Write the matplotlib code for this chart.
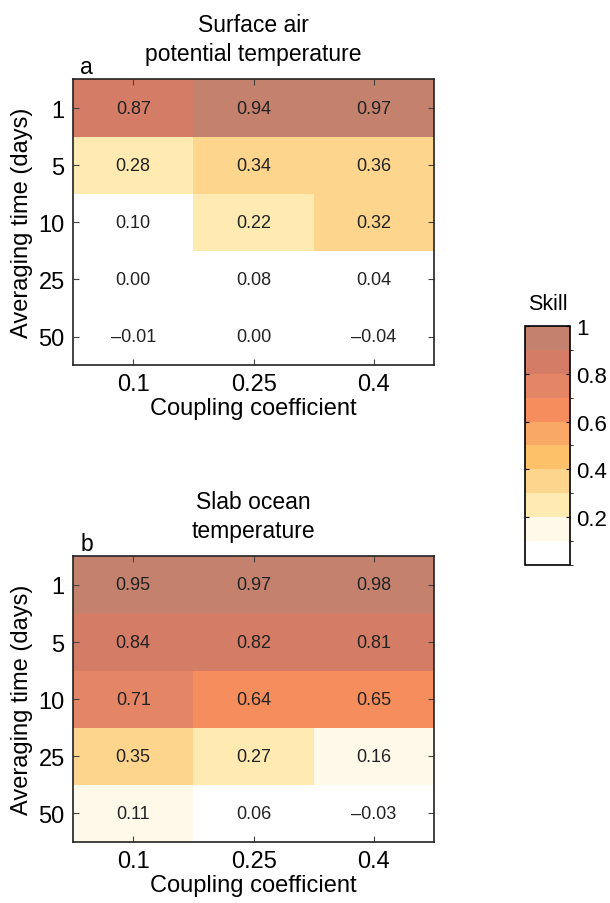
import numpy as np
import matplotlib
matplotlib.use('Agg')
import matplotlib.pyplot as plt
from matplotlib.colors import ListedColormap, BoundaryNorm

plt.rcParams['font.family'] = ['Liberation Sans', 'DejaVu Sans']

# Datos
coupling = ['0.1', '0.25', '0.4']
avg_time = ['1', '5', '10', '25', '50']
skill_air = [[0.87, 0.94, 0.97],
             [0.28, 0.34, 0.36],
             [0.098, 0.22, 0.32],
             [0.00, 0.08, 0.04],
             [-0.01, 0.00, -0.04]]
skill_ocean = [[0.95, 0.97, 0.98],
               [0.84, 0.82, 0.81],
               [0.71, 0.64, 0.65],
               [0.35, 0.27, 0.16],
               [0.11, 0.06, -0.03]]
titles = ['Surface air\npotential temperature', 'Slab ocean\ntemperature']
letters = ['a', 'b']
levels = [0, 0.1, 0.2, 0.3, 0.4, 0.5, 0.6, 0.7, 0.8, 0.9, 1.0]

colors = ['#FFFFFF', '#FFF9E9', '#FFEAB1', '#FDD58C', '#FDC169',
          '#F9A866', '#F58D5C', '#E48565', '#D47C66', '#C4826E']
cmap = ListedColormap(colors)
norm = BoundaryNorm(levels, cmap.N, clip=True)

fig = plt.figure(figsize=(6.1, 9.04), dpi=100)
ax_a = fig.add_axes([0.1197, 0.595, 0.592, 0.316])
ax_b = fig.add_axes([0.1197, 0.0675, 0.592, 0.316])

for ax, data, title, letter in zip([ax_a, ax_b], [skill_air, skill_ocean], titles, letters):
    arr = np.array(data)
    mesh = ax.pcolormesh(np.arange(len(coupling) + 1) - 0.5, np.arange(len(avg_time) + 1) - 0.5,
                         arr, cmap=cmap, norm=norm)
    for i in range(arr.shape[0]):
        for j in range(arr.shape[1]):
            txt = f'{arr[i, j]:.2f}'.replace('-', '\u2013')
            ax.text(j, i, txt, ha='center', va='center', fontsize=13, color='#222222')
    ax.set_xlim(-0.5, len(coupling) - 0.5)
    ax.set_ylim(len(avg_time) - 0.5, -0.5)
    ax.set_xticks(range(len(coupling)))
    ax.set_xticklabels(coupling)
    ax.set_yticks(range(len(avg_time)))
    ax.set_yticklabels(avg_time)
    ax.tick_params(direction='in', length=4, width=0.8, labelsize=17, color='#444444',
                   top=True, right=True, pad=6)
    for s in ax.spines.values():
        s.set_linewidth(1.2)
        s.set_color('#222222')
    ax.set_xlabel('Coupling coefficient', fontsize=17, labelpad=1)
    ax.set_ylabel('Averaging time (days)', fontsize=17, labelpad=4)
    ax.set_title(title, fontsize=16.5, pad=14, linespacing=1.35)
    ax.text(0.02, 1.005, letter, transform=ax.transAxes, fontsize=16.5, ha='left', va='bottom')

cax = fig.add_axes([0.861, 0.3739, 0.0738, 0.2644])
cb = fig.colorbar(mesh, cax=cax, boundaries=levels, ticks=[0.2, 0.4, 0.6, 0.8, 1.0])
cb.set_ticklabels(['0.2', '0.4', '0.6', '0.8', '1'])
cax.tick_params(direction='in', length=3, labelsize=16, left=True, right=True, pad=4)
cb.outline.set_linewidth(1.2)
cax.set_title('Skill', fontsize=15.5, pad=12)

plt.savefig('out.png', dpi=100)
